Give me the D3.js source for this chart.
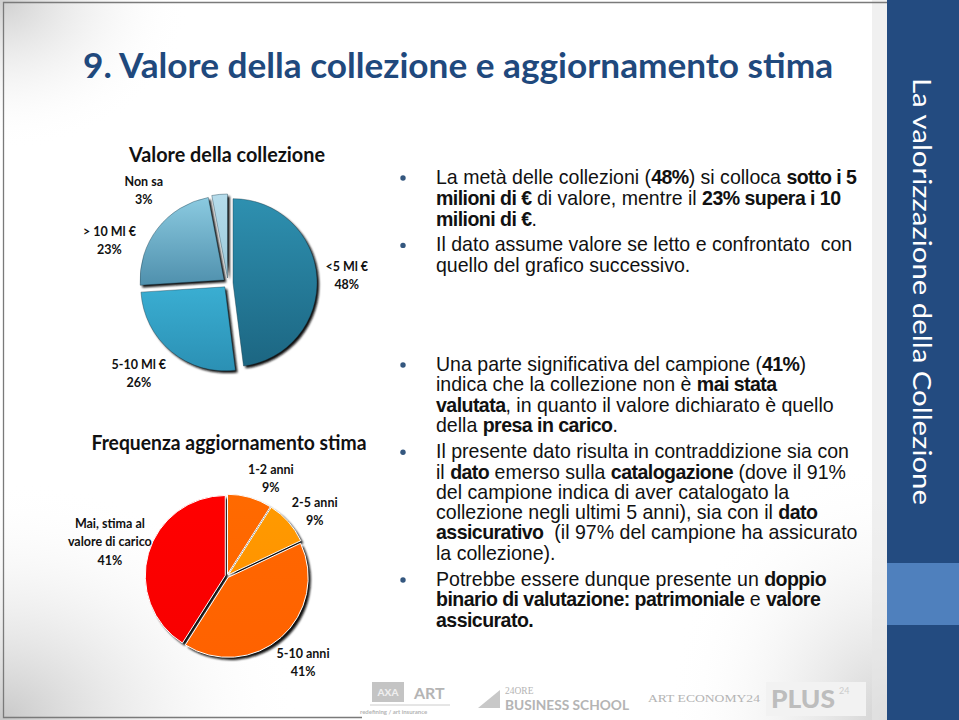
<!DOCTYPE html>
<html>
<head>
<meta charset="utf-8">
<script src="https://cdn.jsdelivr.net/npm/d3@7"></script>
<style>
  html, body { margin: 0; padding: 0; background: #fff; }
  svg { display: block; }
  text { white-space: pre; }
</style>
</head>
<body>
<div id="slide"></div>
<script>
"use strict";

/* ── Data ── */
const valoreCats = ["<5 Ml €", "5-10 Ml €", "> 10 Ml €", "Non sa"];
const valorePct  = [48, 26, 23, 3];

const freqCats = ["1-2 anni", "2-5 anni", "5-10 anni", "Mai, stima al\nvalore di carico"];
const freqPct  = [9, 9, 41, 41];

const slideTitle = "9. Valore della collezione e aggiornamento stima";
const sideTitle  = "La valorizzazione della Collezione";

const blockTop = [
  ["La metà delle collezioni (**48%**) si colloca **sotto i 5**",
   "**milioni di €** di valore, mentre il **23% supera i 10**",
   "**milioni di €**."],
  ["Il dato assume valore se letto e confrontato  con",
   "quello del grafico successivo."]
];
const blockBottom = [
  ["Una parte significativa del campione (**41%**)",
   "indica che la collezione non è **mai stata**",
   "**valutata**, in quanto il valore dichiarato è quello",
   "della **presa in carico**."],
  ["Il presente dato risulta in contraddizione sia con",
   "il **dato** emerso sulla **catalogazione** (dove il 91%",
   "del campione indica di aver catalogato la",
   "collezione negli ultimi 5 anni), sia con il **dato**",
   "**assicurativo**  (il 97% del campione ha assicurato",
   "la collezione)."],
  ["Potrebbe essere dunque presente un **doppio**",
   "**binario di valutazione: patrimoniale** e **valore**",
   "**assicurato.**"]
];

/* ── Setup ── */
const W = 959, H = 720;
const FONT = "Lato, 'Open Sans', sans-serif";
const BODY_FONT = "'Liberation Sans', Arial, sans-serif";

const svg = d3.select("#slide").append("svg")
  .attr("width", W).attr("height", H)
  .attr("font-family", FONT);

const defs = svg.append("defs");

/* ── Background shading ── */
function radial(id, stops) {
  const g = defs.append("radialGradient").attr("id", id);
  stops.forEach(([o, c, op]) => g.append("stop").attr("offset", o)
    .attr("stop-color", c).attr("stop-opacity", op));
}
radial("bgTL", [["0%", "#cfcfcf", 1], ["100%", "#ffffff", 0]]);
radial("bgBL", [["0%", "#c8c8c8", 1], ["100%", "#ffffff", 0]]);
radial("bgBR", [["0%", "#d2d2d2", 1], ["100%", "#ffffff", 0]]);

svg.append("rect").attr("width", W).attr("height", H).attr("fill", "#fff");
svg.append("ellipse").attr("cx", 0).attr("cy", 0).attr("rx", 190).attr("ry", 150).attr("fill", "url(#bgTL)");
svg.append("ellipse").attr("cx", 0).attr("cy", H).attr("rx", 300).attr("ry", 240).attr("fill", "url(#bgBL)");
svg.append("ellipse").attr("cx", 887).attr("cy", H).attr("rx", 220).attr("ry", 260).attr("fill", "url(#bgBR)");
svg.append("rect").attr("x", 872).attr("y", 0).attr("width", 15).attr("height", H)
  .attr("fill", "#e6e6e6").attr("opacity", 0.6);

/* ── Frame ── */
svg.append("path")
  .attr("d", "M887,2.5 H3.5 V717.5 H362")
  .attr("fill", "none").attr("stroke", "#7a7a7a").attr("stroke-width", 1.3);

/* ── Side band ── */
svg.append("rect").attr("x", 887).attr("y", 0).attr("width", W - 887).attr("height", H).attr("fill", "#234b80");
svg.append("rect").attr("x", 887).attr("y", 563).attr("width", W - 887).attr("height", 62).attr("fill", "#4f80bd");
svg.append("text")
  .attr("transform", "translate(913,78) rotate(90)")
  .attr("fill", "#fff").attr("font-size", 25).attr("font-weight", 400)
  .attr("textLength", 427).attr("lengthAdjust", "spacingAndGlyphs")
  .text(sideTitle);

/* ── Slide title ── */
svg.append("text")
  .attr("x", 83).attr("y", 78)
  .attr("fill", "#1f497d").attr("font-size", 34).attr("font-weight", 700)
  .attr("textLength", 750).attr("lengthAdjust", "spacingAndGlyphs")
  .text(slideTitle);

/* ── Shadow filter ── */
const f = defs.append("filter").attr("id", "soft").attr("x", "-10%").attr("y", "-10%")
  .attr("width", "120%").attr("height", "120%");
f.append("feGaussianBlur").attr("stdDeviation", 0.9);

/* ── Pie drawing ── */
function drawPie(values, cats, o) {
  const g = svg.append("g").attr("transform", `translate(${o.cx},${o.cy})`);
  const pie = d3.pie().sort(null).value(d => d);
  const arcs = pie(values);
  const arc = d3.arc().innerRadius(0).outerRadius(o.r);
  const mid = d => (d.startAngle + d.endAngle) / 2;
  const shift = d => [o.explode * Math.sin(mid(d)), -o.explode * Math.cos(mid(d))];

  arcs.forEach((d, i) => {
    const grad = defs.append("linearGradient").attr("id", `${o.id}-g${i}`)
      .attr("x1", 0).attr("y1", 0).attr("x2", 0).attr("y2", 1);
    grad.append("stop").attr("offset", "0%").attr("stop-color", o.top[i]);
    grad.append("stop").attr("offset", "100%").attr("stop-color", o.bottom[i]);
  });

  // shadows
  g.selectAll(".shadow").data(arcs).join("path")
    .attr("class", "shadow")
    .attr("transform", d => { const s = shift(d); return `translate(${s[0] + o.shadow},${s[1] + o.shadow})`; })
    .attr("d", arc).attr("fill", "#111").attr("filter", "url(#soft)");

  // slices
  g.selectAll(".slice").data(arcs).join("path")
    .attr("class", "slice")
    .attr("transform", d => { const s = shift(d); return `translate(${s[0]},${s[1]})`; })
    .attr("d", arc)
    .attr("fill", (d, i) => `url(#${o.id}-g${i})`)
    .attr("stroke", o.stroke).attr("stroke-width", o.strokeW);

  // labels
  const lh = 18.5;
  arcs.forEach((d, i) => {
    const [dDeg, R] = o.labelPlace[i];
    const a = mid(d) + dDeg * Math.PI / 180;
    const x = R * Math.sin(a), y = -R * Math.cos(a);
    const lines = cats[i].split("\n").concat([values[i] + "%"]);
    const t = g.append("text")
      .attr("text-anchor", "middle").attr("font-size", 12.5).attr("font-weight", 700)
      .attr("fill", "#111");
    const y0 = y - (lines.length - 1) * lh / 2 + 4.5;
    lines.forEach((ln, k) => t.append("tspan").attr("x", x).attr("y", y0 + k * lh).text(ln));
  });

  svg.append("text")
    .attr("x", o.titleX).attr("y", o.titleY)
    .attr("text-anchor", "middle").attr("font-size", 20).attr("font-weight", 700)
    .attr("fill", "#111")
    .attr("textLength", o.titleW).attr("lengthAdjust", "spacingAndGlyphs")
    .text(o.title);
}

drawPie(valorePct, valoreCats, {
  id: "val", cx: 228, cy: 283, r: 84, explode: 5, shadow: 2.2,
  top:    ["#2e90b0", "#3aaed2", "#8bcae0", "#b6dceb"],
  bottom: ["#1c6682", "#2b90b4", "#4f90ad", "#9ac8da"],
  stroke: "#1a3a4a", strokeW: 0.4,
  labelPlace: [[0, 119], [5, 127], [-18, 126], [-37, 125]],
  title: "Valore della collezione", titleX: 227, titleY: 162, titleW: 196
});

drawPie(freqPct, freqCats, {
  id: "frq", cx: 227, cy: 576, r: 80, explode: 1.8, shadow: 2.6,
  top:    ["#ff6a00", "#ff9a00", "#ff6600", "#ff0000"],
  bottom: ["#ff6600", "#ff9400", "#ff6200", "#f80000"],
  stroke: "#fff", strokeW: 1,
  labelPlace: [[8, 107], [5, 109], [0, 115], [0, 122]],
  title: "Frequenza aggiornamento stima", titleX: 229, titleY: 450, titleW: 275
});

/* ── Body text ── */
const bodyX = 436, bulletX = 403;
const probe = svg.append("text").attr("font-family", BODY_FONT).attr("font-size", 18)
  .text(blockBottom[1][0]);
const bodySize = 18 * 413 / probe.node().getComputedTextLength();
probe.remove();

function drawBlock(paras, y0, lh, gap) {
  let y = y0;
  paras.forEach(lines => {
    svg.append("circle").attr("cx", bulletX).attr("cy", y - 6)
      .attr("r", 2.7).attr("fill", "#34577f");
    lines.forEach(line => {
      const t = svg.append("text").attr("x", bodyX).attr("y", y)
        .attr("font-family", BODY_FONT)
        .attr("font-size", bodySize).attr("fill", "#111");
      line.split("**").forEach((seg, k) => {
        if (!seg) return;
        const s = t.append("tspan").attr("font-weight", k % 2 ? 700 : 400).text(seg);
        if (k % 2) s.attr("letter-spacing", -0.55);
      });
      y += lh;
    });
    y += gap;
  });
}
drawBlock(blockTop, 184, 20.8, 5);
drawBlock(blockBottom, 371, 20.3, 6);

/* ── Sponsor logos (faded) ── */
const logo = svg.append("g").attr("fill", "#b4b4b4");
logo.append("rect").attr("x", 372).attr("y", 682).attr("width", 32).attr("height", 20).attr("fill", "#c4c4c4");
logo.append("text").attr("x", 388).attr("y", 696).attr("text-anchor", "middle")
  .attr("font-size", 10).attr("font-weight", 900).attr("fill", "#eee").text("AXA");
logo.append("text").attr("x", 414).attr("y", 699).attr("font-size", 16).attr("font-weight", 700).text("ART");
logo.append("line").attr("x1", 370).attr("x2", 450).attr("y1", 705).attr("y2", 705).attr("stroke", "#ccc");
logo.append("text").attr("x", 360).attr("y", 714).attr("font-size", 6).attr("font-weight", 700)
  .text("redefining / art insurance");
logo.append("path").attr("d", "M478,708 L500,690 L500,708 Z").attr("fill", "#c8c8c8");
logo.append("text").attr("x", 505).attr("y", 694).attr("font-size", 9.5)
  .attr("font-family", "'Liberation Serif', serif").text("24ORE");
logo.append("text").attr("x", 505).attr("y", 710).attr("font-size", 12.5).attr("font-weight", 700)
  .attr("textLength", 124).attr("lengthAdjust", "spacingAndGlyphs").text("BUSINESS SCHOOL");
logo.append("text").attr("x", 648).attr("y", 702).attr("font-size", 11)
  .attr("font-family", "'Liberation Serif', serif")
  .attr("textLength", 112).attr("lengthAdjust", "spacingAndGlyphs").text("ART ECONOMY24");
logo.append("rect").attr("x", 766).attr("y", 682).attr("width", 100).attr("height", 34).attr("fill", "#f2f2f2");
logo.append("text").attr("x", 771).attr("y", 708).attr("font-size", 24).attr("font-weight", 900)
  .attr("fill", "#bdbdbd").attr("textLength", 64).attr("lengthAdjust", "spacingAndGlyphs").text("PLUS");
logo.append("text").attr("x", 839).attr("y", 694).attr("font-size", 9).attr("fill", "#ccc").text("24");
</script>
</body>
</html>
